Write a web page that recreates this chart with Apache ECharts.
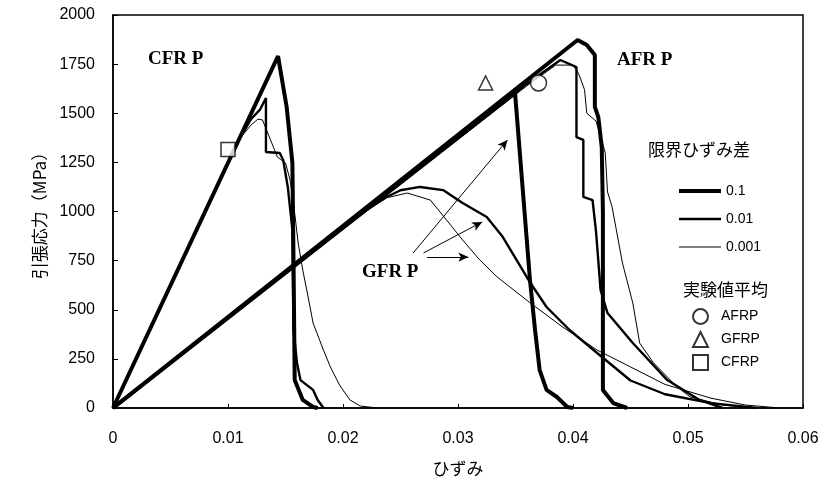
<!DOCTYPE html>
<html><head><meta charset="utf-8">
<script src="https://cdn.jsdelivr.net/npm/echarts@6/dist/echarts.min.js"></script>
<style>html,body{margin:0;padding:0;background:#fff}#c{width:826px;height:489px}</style>
</head><body><div id="c"></div>
<script>
// ---- data: [strain, stress(MPa)] ----
const xTicks = [0, 0.01, 0.02, 0.03, 0.04, 0.05, 0.06];
const yTicks = [0, 250, 500, 750, 1000, 1250, 1500, 1750, 2000];

const cfrp01 = [[0,0],[0.01435,1791],[0.0151,1532],[0.0156,1247],[0.0157,738],[0.0158,142],[0.0165,41],[0.0174,5],[0.0178,0]];
const cfrp001 = [[0,0],[0.0110,1370],[0.0120,1470],[0.0128,1520],[0.0133,1578],[0.0133,1303],[0.0145,1298],[0.0148,1262],[0.0152,1125],[0.0156,906],[0.0157,397],[0.0160,229],[0.0163,142],[0.0174,92],[0.0178,41],[0.0183,0]];
const cfrp0001 = [[0,0],[0.0110,1370],[0.0120,1440],[0.0126,1470],[0.0130,1466],[0.0137,1364],[0.0143,1277],[0.0150,1247],[0.0154,1160],[0.0158,992],[0.0161,840],[0.0165,702],[0.0169,585],[0.0174,432],[0.0183,295],[0.0189,209],[0.0197,117],[0.0206,41],[0.0215,10],[0.0230,0]];

const gfrp01 = [[0,0],[0.03496,1603],[0.03626,651],[0.0367,397],[0.0371,193],[0.0377,92],[0.0386,56],[0.0395,5],[0.0400,0]];
const gfrp001 = [[0,0],[0.0220,1010],[0.0238,1074],[0.0250,1108],[0.0267,1125],[0.0287,1109],[0.0304,1043],[0.0325,972],[0.0339,870],[0.0351,753],[0.0363,636],[0.0377,514],[0.0397,397],[0.0421,280],[0.0450,140],[0.0480,70],[0.0520,25],[0.0560,0]];
const gfrp0001 = [[0,0],[0.0220,1000],[0.0238,1070],[0.0256,1094],[0.0276,1058],[0.0290,957],[0.0304,855],[0.0319,753],[0.0334,667],[0.0363,534],[0.0391,412],[0.0421,295],[0.0450,209],[0.0480,120],[0.0520,50],[0.0550,15],[0.0580,0]];

const afrp01 = [[0,0],[0.0404,1873],[0.0412,1847],[0.0419,1796],[0.0419,1532],[0.0422,1481],[0.0425,1328],[0.0426,1000],[0.0426,92],[0.0435,25],[0.0447,0]];
const afrp001 = [[0,0],[0.0360,1650],[0.0389,1771],[0.0403,1735],[0.0403,1379],[0.0409,1364],[0.0409,1074],[0.0417,1058],[0.0420,900],[0.0424,600],[0.0430,483],[0.0452,331],[0.0482,142],[0.0510,41],[0.0530,0]];
const afrp0001 = [[0,0],[0.0360,1640],[0.0385,1745],[0.0400,1745],[0.0405,1700],[0.0410,1620],[0.0412,1500],[0.0420,1460],[0.0423,1400],[0.0428,1300],[0.0430,1100],[0.0434,1023],[0.0443,738],[0.0452,534],[0.0458,330],[0.0470,230],[0.0490,110],[0.0502,56],[0.0530,15],[0.0560,0]];

const expAFRP = [[0.0370,1654]];
const expGFRP = [[0.0324,1654]];
const expCFRP = [[0.0100,1315]];

const arrows = [
  [[0.0261,789],[0.0343,1364]],
  [[0.0270,789],[0.0321,947]],
  [[0.0273,768],[0.0309,768]]
];

const lineNames = ['0.1','0.01','0.001'];
const lineWidths = {'0.1':4,'0.01':2.4,'0.001':1};

// ---- chart ----
const chart = echarts.init(document.getElementById('c'), null, {renderer:'canvas'});
const FONT = 'Liberation Sans';
function lineSeries(name, data, extra){
  return Object.assign({
    type:'line', name:name, data:data, symbol:'none', silent:true,
    lineStyle:{color:'#000', width:lineWidths[name]}, itemStyle:{color:'#000'},
    z: name==='0.1'?3:(name==='0.01'?4:5)
  }, extra||{});
}
const series = [
  lineSeries('0.1', cfrp01), lineSeries('0.01', cfrp001), lineSeries('0.001', cfrp0001),
  lineSeries('0.1', gfrp01), lineSeries('0.01', gfrp001), lineSeries('0.001', gfrp0001, {
    markLine:{silent:true, symbol:['none','arrow'], symbolSize:[7,10], animation:false,
      label:{show:false}, lineStyle:{color:'#000', width:1, type:'solid'},
      data: arrows.map(a=>[{coord:a[0]},{coord:a[1]}])}
  }),
  lineSeries('0.1', afrp01), lineSeries('0.01', afrp001), lineSeries('0.001', afrp0001),
  {type:'scatter', name:'AFRP', data:expAFRP, symbol:'circle', symbolSize:16,
   itemStyle:{color:'#fff', borderColor:'#000', borderWidth:1.5}, z:10},
  {type:'scatter', name:'GFRP', data:expGFRP, symbol:'triangle', symbolSize:14,
   itemStyle:{color:'#fff', borderColor:'#000', borderWidth:1.5}, z:10},
  {type:'scatter', name:'CFRP', data:expCFRP, symbol:'rect', symbolSize:14,
   itemStyle:{color:'#fff', borderColor:'#000', borderWidth:1.5}, z:10}
];

chart.setOption({
  animation:false,
  backgroundColor:'#fff',
  grid:{left:113, top:15, right:23, bottom:81, show:true, borderColor:'#000', borderWidth:1.5, backgroundColor:'transparent'},
  xAxis:{type:'value', min:0, max:0.06, interval:0.01,
    name:'ひずみ', nameLocation:'middle', nameGap:52,
    nameTextStyle:{fontFamily:'Noto Sans CJK JP', fontSize:17, color:'#000'},
    axisLine:{show:true, lineStyle:{color:'#000', width:1.5}},
    axisTick:{show:true, inside:true, length:4, lineStyle:{color:'#000'}},
    axisLabel:{fontFamily:FONT, fontSize:16, color:'#000', margin:23,
      formatter:v=>xTicks.indexOf(Math.round(v*100)/100)>=0?String(Math.round(v*100)/100):''},
    splitLine:{show:false}},
  yAxis:{type:'value', min:0, max:2000, interval:250,
    name:'引張応力（MPa）', nameLocation:'middle', nameGap:64, nameRotate:90,
    nameTextStyle:{fontFamily:'Noto Sans CJK JP', fontSize:17, color:'#000'},
    axisLine:{show:true, lineStyle:{color:'#000', width:1.5}},
    axisTick:{show:true, inside:true, length:5, lineStyle:{color:'#000'}},
    axisLabel:{fontFamily:FONT, fontSize:16, color:'#000', margin:18,
      formatter:v=>yTicks.indexOf(v)>=0?String(v):''},
    splitLine:{show:false}},
  legend:[
    {data:lineNames.map(n=>({name:n, itemStyle:{opacity:0}, lineStyle:{width:lineWidths[n], color:'#000'}})),
     orient:'vertical', left:677, top:184, padding:0, itemWidth:42, itemHeight:12, itemGap:14,
     itemStyle:{opacity:0},
     textStyle:{fontFamily:FONT, fontSize:14, color:'#000'}, selectedMode:false},
    {data:['AFRP','GFRP','CFRP'], orient:'vertical', left:692, top:308, padding:0, itemWidth:15, itemHeight:15, itemGap:6,
     textStyle:{fontFamily:FONT, fontSize:14, color:'#000', padding:[0,0,0,8]}, selectedMode:false}
  ],
  graphic:[
    {type:'text', x:648, y:150, style:{text:'限界ひずみ差', font:'17px "Noto Sans CJK JP"', fill:'#000', verticalAlign:'middle'}},
    {type:'text', x:683, y:290, style:{text:'実験値平均', font:'17px "Noto Sans CJK JP"', fill:'#000', verticalAlign:'middle'}},
    {type:'text', x:148, y:59, style:{text:'CFR P', font:'bold 19px "Liberation Serif"', fill:'#000', verticalAlign:'middle'}},
    {type:'text', x:617, y:60, style:{text:'AFR P', font:'bold 19px "Liberation Serif"', fill:'#000', verticalAlign:'middle'}},
    {type:'text', x:362, y:272, style:{text:'GFR P', font:'bold 19px "Liberation Serif"', fill:'#000', verticalAlign:'middle'}}
  ],
  series:series
});
</script></body></html>
